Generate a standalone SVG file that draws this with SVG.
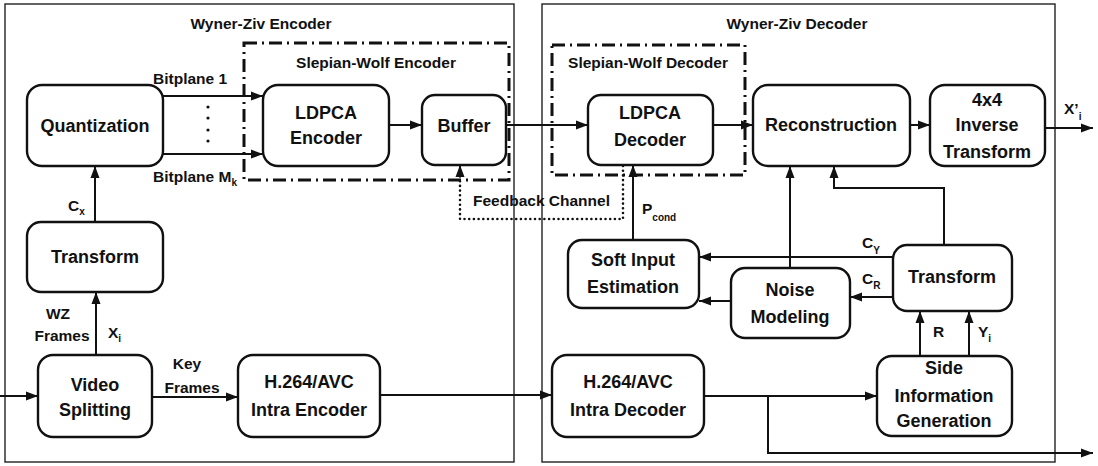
<svg xmlns="http://www.w3.org/2000/svg" width="1098" height="466" viewBox="0 0 1098 466">
<style>
text{font-family:"Liberation Sans",Arial,sans-serif;font-weight:bold;fill:#111}
.n{font-size:18px;text-anchor:middle}
.l{font-size:15.5px}
.t{font-size:15.5px;text-anchor:middle}
.s{font-size:10px}
.node{fill:#fff;stroke:#111;stroke-width:2.4}
.outer{fill:none;stroke:#222;stroke-width:1.4}
.sw{fill:none;stroke:#111;stroke-width:3;stroke-dasharray:13 5 2 5}
.c{fill:none;stroke:#111;stroke-width:2}
.dot{fill:none;stroke:#111;stroke-width:2.6;stroke-linecap:round;stroke-dasharray:0 4.7}
</style>
<defs>
<marker id="ah" markerUnits="userSpaceOnUse" markerWidth="13" markerHeight="10" refX="12" refY="5" orient="auto">
<path d="M0,0.5 L12,5 L0,9.5 z" fill="#111"/>
</marker>
</defs>
<rect width="1098" height="466" fill="#fff"/>
<g id="encoder-frame">
<rect class="outer" x="5" y="4" width="509" height="458"/>
<text class="t" x="261" y="28.5">Wyner-Ziv Encoder</text>
</g>
<g id="decoder-frame">
<rect class="outer" x="542" y="4" width="513" height="458"/>
<text class="t" x="797" y="28.5">Wyner-Ziv Decoder</text>
</g>
<g id="sw-encoder">
<rect class="sw" x="244" y="43" width="265" height="137"/>
<text class="t" x="376" y="67.5">Slepian-Wolf Encoder</text>
</g>
<g id="sw-decoder">
<rect class="sw" x="552" y="45" width="193" height="130"/>
<text class="t" x="648" y="67.5">Slepian-Wolf Decoder</text>
</g>
<g id="connectors">
<path class="c" d="M0,396 H38" marker-end="url(#ah)"/>
<path class="c" d="M152,397 H238" marker-end="url(#ah)"/>
<path class="c" d="M380,395 H552" marker-end="url(#ah)"/>
<path class="c" d="M704,396 H877" marker-end="url(#ah)"/>
<path class="c" d="M768,396 V453 H1093" marker-end="url(#ah)"/>
<path class="c" d="M96,355 V292" marker-end="url(#ah)"/>
<path class="c" d="M95,222 V166" marker-end="url(#ah)"/>
<path class="c" d="M163,96 H263" marker-end="url(#ah)"/>
<path class="c" d="M163,154 H263" marker-end="url(#ah)"/>
<path class="c" d="M389,125 H422" marker-end="url(#ah)"/>
<path class="c" d="M506,125 H588" marker-end="url(#ah)"/>
<path class="c" d="M713,125 H753" marker-end="url(#ah)"/>
<path class="c" d="M910,125 H930" marker-end="url(#ah)"/>
<path class="c" d="M1045,128 H1093" marker-end="url(#ah)"/>
<path class="c" d="M633,240 V165" marker-end="url(#ah)"/>
<path class="dot" d="M623,166 V219 H460 V172"/>
<path class="c" d="M460,175 V165" marker-end="url(#ah)"/>
<path class="c" d="M790,268 V166" marker-end="url(#ah)"/>
<path class="c" d="M944,245 V188 H834 V166" marker-end="url(#ah)"/>
<path class="c" d="M893,257 H699" marker-end="url(#ah)"/>
<path class="c" d="M893,297 H850" marker-end="url(#ah)"/>
<path class="c" d="M731,301 H699" marker-end="url(#ah)"/>
<path class="c" d="M920,356 V311" marker-end="url(#ah)"/>
<path class="c" d="M969,356 V311" marker-end="url(#ah)"/>
<g fill="#111">
<circle cx="208" cy="107" r="1.6"/><circle cx="208" cy="118" r="1.6"/><circle cx="208" cy="130" r="1.6"/><circle cx="208" cy="141" r="1.6"/>
</g>
</g>
<g id="labels">
<text class="l" x="153" y="84">Bitplane 1</text>
<text class="l" x="153" y="182">Bitplane M<tspan class="s" dy="4">k</tspan></text>
<text class="l" x="68" y="211">C<tspan class="s" dy="4">x</tspan></text>
<text class="t" x="58" y="319">WZ</text>
<text class="t" x="62" y="341">Frames</text>
<text class="l" x="108" y="338">X<tspan class="s" dy="4">i</tspan></text>
<text class="t" x="187" y="369">Key</text>
<text class="t" x="192" y="393">Frames</text>
<text class="l" x="473" y="206">Feedback Channel</text>
<text class="l" x="642" y="214">P<tspan class="s" dy="7">cond</tspan></text>
<text class="l" x="862" y="248">C<tspan class="s" dy="6">Y</tspan></text>
<text class="l" x="862" y="284">C<tspan class="s" dy="5">R</tspan></text>
<text class="l" x="933" y="337">R</text>
<text class="l" x="978" y="337">Y<tspan class="s" dy="5">i</tspan></text>
<text class="l" x="1064" y="114">X’<tspan class="s" dy="6">i</tspan></text>
</g>
<g id="quantization">
<rect class="node" x="27" y="85" width="136" height="81" rx="15"/>
<text class="n" x="95" y="132">Quantization</text>
</g>
<g id="ldpca-encoder">
<rect class="node" x="263" y="85" width="126" height="81" rx="15"/>
<text class="n" x="326" y="119">LDPCA</text>
<text class="n" x="326" y="144">Encoder</text>
</g>
<g id="buffer">
<rect class="node" x="422" y="95" width="84" height="70" rx="13"/>
<text class="n" x="464" y="132">Buffer</text>
</g>
<g id="ldpca-decoder">
<rect class="node" x="588" y="95" width="125" height="70" rx="13"/>
<text class="n" x="650" y="119">LDPCA</text>
<text class="n" x="650" y="146">Decoder</text>
</g>
<g id="reconstruction">
<rect class="node" x="753" y="85" width="157" height="81" rx="15"/>
<text class="n" x="831" y="131">Reconstruction</text>
</g>
<g id="inverse-transform">
<rect class="node" x="930" y="85" width="115" height="81" rx="15"/>
<text class="n" x="987" y="106">4x4</text>
<text class="n" x="987" y="131">Inverse</text>
<text class="n" x="987" y="158">Transform</text>
</g>
<g id="transform-enc">
<rect class="node" x="27" y="222" width="136" height="70" rx="14"/>
<text class="n" x="95" y="263">Transform</text>
</g>
<g id="video-splitting">
<rect class="node" x="38" y="355" width="114" height="82" rx="15"/>
<text class="n" x="95" y="391">Video</text>
<text class="n" x="95" y="416">Splitting</text>
</g>
<g id="h264-encoder">
<rect class="node" x="238" y="355" width="142" height="82" rx="15"/>
<text class="n" x="309" y="388">H.264/AVC</text>
<text class="n" x="309" y="416">Intra Encoder</text>
</g>
<g id="h264-decoder">
<rect class="node" x="552" y="355" width="152" height="82" rx="15"/>
<text class="n" x="628" y="388">H.264/AVC</text>
<text class="n" x="628" y="416">Intra Decoder</text>
</g>
<g id="soft-input">
<rect class="node" x="568" y="240" width="131" height="68" rx="14"/>
<text class="n" x="633" y="266">Soft Input</text>
<text class="n" x="633" y="293">Estimation</text>
</g>
<g id="noise-modeling">
<rect class="node" x="731" y="268" width="119" height="70" rx="14"/>
<text class="n" x="790" y="296">Noise</text>
<text class="n" x="790" y="323">Modeling</text>
</g>
<g id="transform-dec">
<rect class="node" x="893" y="245" width="119" height="66" rx="14"/>
<text class="n" x="952" y="283">Transform</text>
</g>
<g id="side-info">
<rect class="node" x="877" y="356" width="135" height="80" rx="15"/>
<text class="n" x="944" y="374">Side</text>
<text class="n" x="944" y="402">Information</text>
<text class="n" x="944" y="427">Generation</text>
</g>
</svg>
